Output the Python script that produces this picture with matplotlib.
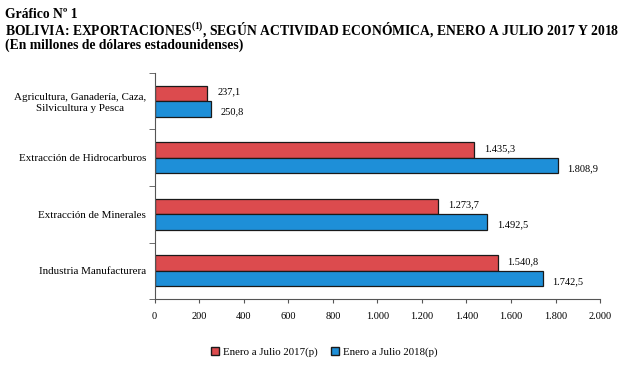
import numpy as np
import matplotlib.pyplot as plt
from matplotlib.patches import Patch

# data
categorias = ['Agricultura, Ganadería, Caza,\nSilvicultura y Pesca',
              'Extracción de Hidrocarburos',
              'Extracción de Minerales',
              'Industria Manufacturera']
v2017 = [237.1, 1435.3, 1273.7, 1540.8]
v2018 = [250.8, 1808.9, 1492.5, 1742.5]
xticks = np.arange(0, 2001, 200)
series = ['Enero a Julio 2017(p)', 'Enero a Julio 2018(p)']

plt.rcParams['font.family'] = ['Liberation Serif', 'DejaVu Serif']
plt.rcParams['mathtext.fontset'] = 'custom'
plt.rcParams['mathtext.rm'] = 'Liberation Serif'
plt.rcParams['mathtext.bf'] = 'Liberation Serif:bold'

def fmt(v):
    s = f'{v:,.1f}'
    return s.replace(',', 'X').replace('.', ',').replace('X', '.')

rojo = '#DC4B4E'
azul = '#1E8FD8'

fig = plt.figure(figsize=(6.3, 3.74), dpi=100)
ax = fig.add_axes([0.2455, 0.2, 0.707, 0.605])

y = np.arange(len(categorias))
h = 0.275
ax.barh(y - h/2, v2017, height=h, color=rojo, edgecolor='#1a1a1a', linewidth=0.9)
ax.barh(y + h/2, v2018, height=h, color=azul, edgecolor='#1a1a1a', linewidth=0.9)

# value labels
for i in range(len(categorias)):
    ax.annotate(fmt(v2017[i]), (v2017[i], y[i] - h/2), xytext=(7, 1), textcoords='offset points',
                va='center', ha='left', fontsize=7.5)
    ax.annotate(fmt(v2018[i]), (v2018[i], y[i] + h/2), xytext=(7, -2), textcoords='offset points',
                va='center', ha='left', fontsize=7.5)

ax.set_ylim(len(categorias) - 0.5, -0.5)
ax.set_xlim(0, 2000)
ax.set_yticks(y)
ax.set_yticklabels(categorias, fontsize=7.9, multialignment='center')
ax.set_yticks(np.arange(-0.5, len(categorias)), minor=True)
ax.tick_params(axis='y', which='major', length=0, pad=6)
ax.tick_params(axis='y', which='minor', length=4, color='#555555')
ax.set_xticks(xticks)
ax.set_xticklabels([fmt(t).replace(',0', '') for t in xticks], fontsize=7.5)
ax.tick_params(axis='x', length=3, color='#555555', pad=6)
for s in ['top', 'right']:
    ax.spines[s].set_visible(False)
for s in ['left', 'bottom']:
    ax.spines[s].set_color('#555555')
    ax.spines[s].set_linewidth(0.8)

# titles
fig.text(0.008, 0.962, 'Gráfico Nº 1', fontsize=9.8, fontweight='bold', va='center')
fig.text(0.008, 0.919, 'BOLIVIA: EXPORTACIONES$^{\\mathbf{(1)}}$, SEGÚN ACTIVIDAD ECONÓMICA, ENERO A JULIO 2017 Y 2018',
         fontsize=9.8, fontweight='bold', va='center')
fig.text(0.008, 0.878, '(En millones de dólares estadounidenses)', fontsize=9.8, fontweight='bold', va='center')

handles = [Patch(facecolor=rojo, edgecolor='#1a1a1a'), Patch(facecolor=azul, edgecolor='#1a1a1a')]
fig.legend(handles, series, loc='center', bbox_to_anchor=(0.515, 0.058), ncol=2, frameon=False,
           fontsize=7.8, handlelength=0.7, handleheight=0.7, handletextpad=0.4, columnspacing=1.2)

fig.savefig('out.png', dpi=100)
